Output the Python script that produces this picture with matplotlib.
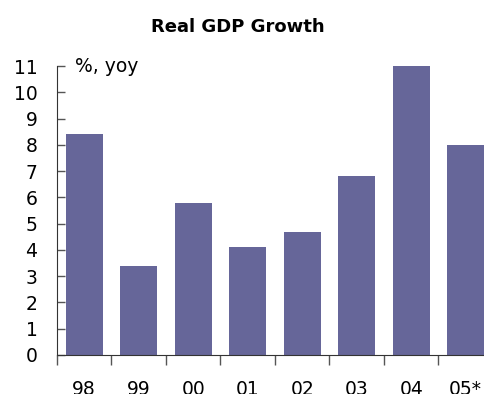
import numpy as np
import matplotlib
matplotlib.use('Agg')
import matplotlib.pyplot as plt

# real GDP growth, % yoy
years = ['98', '99', '00', '01', '02', '03', '04', '05*']
growth = [8.4, 3.4, 5.8, 4.1, 4.7, 6.8, 11.0, 8.0]

fig = plt.figure(figsize=(4.85, 3.94), dpi=100)
ax = fig.add_axes([57/485, 39/394, 436/485, 289/394])

x = np.arange(len(years))
ax.bar(x, growth, width=0.68, color='#666699')

ax.set_xlim(-0.5, len(years) - 0.5)
ax.set_ylim(0, 11)
ax.set_yticks(range(0, 12))
ax.set_xticks(x)
ax.set_xticklabels(years)
ax.set_xticks(np.arange(-0.5, len(years), 1), minor=True)

ax.tick_params(axis='y', direction='in', length=6, width=1, color='#555555',
               labelsize=13.5, pad=14)
ax.tick_params(axis='x', which='major', length=0, labelsize=13.5, pad=18)
ax.tick_params(axis='x', which='minor', direction='out', length=7, width=1,
               color='#555555')

for s in ['top', 'right']:
    ax.spines[s].set_visible(False)
ax.spines['left'].set_color('#333333')
ax.spines['bottom'].set_color('#333333')

ax.text(-0.17, 11, '%, yoy', fontsize=13.5, va='center', ha='left')
fig.text(238/485, 1 - 27/394, 'Real GDP Growth', fontsize=13, fontweight='bold',
         ha='center', va='center')

fig.savefig('out.png', dpi=100)
